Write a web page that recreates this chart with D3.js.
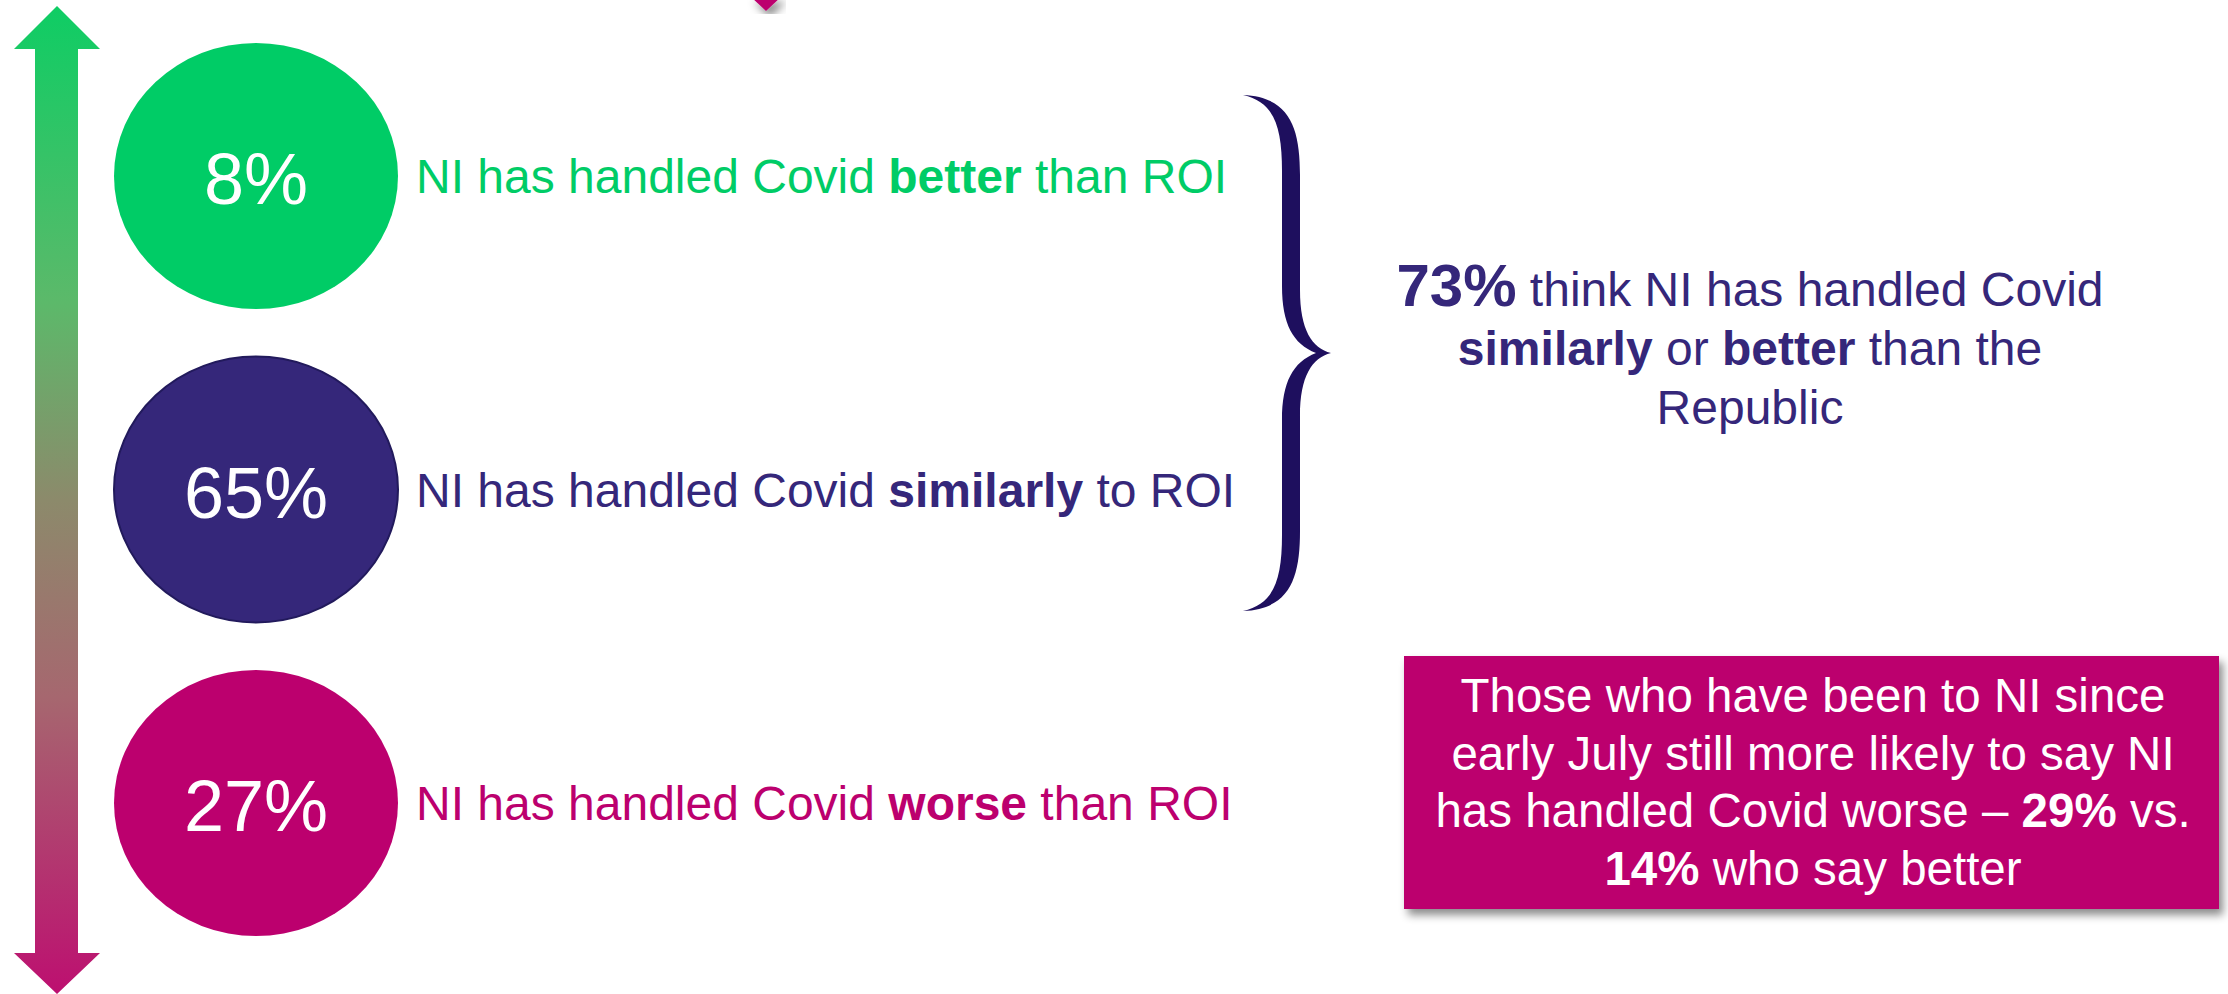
<!DOCTYPE html>
<html>
<head>
<meta charset="utf-8">
<script src="https://cdn.jsdelivr.net/npm/d3@7"></script>
<style>
  body { margin: 0; background: #fff; }
  svg { display: block; font-family: "Liberation Sans", Arial, sans-serif; }
</style>
</head>
<body>
<div id="container"></div>
<script>
// answers, shares and their colours
const categories = ["better", "similarly", "worse"];
const shares = [8, 65, 27];
const colors = ["#00cc66", "#35277a", "#bc006e"];
const labelLead = "NI has handled Covid ";
const labelTail = [" than ROI", " to ROI", " than ROI"];

// summary beside the brace: [text, bold, size]
const summaryLines = [
  [["73%", true, 60], [" think NI has handled Covid", false, 48]],
  [["similarly", true, 48], [" or ", false, 48], ["better", true, 48], [" than the", false, 48]],
  [["Republic", false, 48]]
];

// callout box lines
const boxLines = [
  [["Those who have been to NI since", false]],
  [["early July still more likely to say NI", false]],
  [["has handled Covid worse \u2013 ", false], ["29%", true], [" vs.", false]],
  [["14%", true], [" who say better", false]]
];

const W = 2228, H = 994;

const svg = d3.select("#container")
  .append("svg")
  .attr("width", W)
  .attr("height", H);

const defs = svg.append("defs");

const grad = defs.append("linearGradient")
  .attr("id", "arrowGrad")
  .attr("gradientUnits", "userSpaceOnUse")
  .attr("x1", 0).attr("y1", 6)
  .attr("x2", 0).attr("y2", 994);
[[0, "#0ecd64"], [0.3, "#5cb96a"], [0.5, "#8c8a6b"], [0.7, "#a6676f"], [1, "#bd0f70"]]
  .forEach(([o, c]) => grad.append("stop").attr("offset", o).attr("stop-color", c));

const shadow = defs.append("filter")
  .attr("id", "shadow")
  .attr("x", "-10%").attr("y", "-10%")
  .attr("width", "120%").attr("height", "130%");
shadow.append("feDropShadow")
  .attr("dx", 4).attr("dy", 6)
  .attr("stdDeviation", 4)
  .attr("flood-color", "#000")
  .attr("flood-opacity", 0.45);

// vertical position of each answer
const y = d3.scalePoint()
  .domain(categories)
  .range([176, 803]);

const cx = 256;

// double-headed gradient arrow
svg.append("path")
  .attr("d", "M57,6 L100,49 L78,49 L78,953 L100,953 L57,994 L14,953 L35,953 L35,49 L14,49 Z")
  .attr("fill", "url(#arrowGrad)");

// small pink pointer at the top
svg.append("path")
  .attr("d", "M750,-4 L782,-4 L766,11 Z")
  .attr("fill", "#bc006e")
  .attr("filter", "url(#shadow)");

const rows = svg.selectAll("g.row")
  .data(categories)
  .join("g")
  .attr("class", "row")
  .attr("transform", d => `translate(0,${y(d)})`);

rows.append("ellipse")
  .attr("cx", cx)
  .attr("cy", 0)
  .attr("rx", 142)
  .attr("ry", 133)
  .attr("fill", (d, i) => colors[i])
  .attr("stroke", (d, i) => i === 1 ? "#221a5c" : "none")
  .attr("stroke-width", 2);

rows.append("text")
  .attr("x", cx)
  .attr("y", 28)
  .attr("text-anchor", "middle")
  .attr("fill", "#fff")
  .attr("font-size", 72)
  .text((d, i) => shares[i] + "%");

const label = rows.append("text")
  .attr("x", 416)
  .attr("y", 17)
  .attr("font-size", 48)
  .attr("fill", (d, i) => colors[i]);
label.append("tspan").text(labelLead);
label.append("tspan").attr("font-weight", "bold").text(d => d);
label.append("tspan").text((d, i) => labelTail[i]);

// curly brace grouping the first two answers
svg.append("path")
  .attr("d", [
    "M1243,95",
    "C1290,97 1300,128 1300,175",
    "L1300,290",
    "C1300,330 1312,348 1331,353",
    "C1312,358 1300,376 1300,416",
    "L1300,531",
    "C1300,578 1290,609 1243,611",
    "C1274,604 1282,580 1282,535",
    "L1282,420",
    "C1282,382 1293,362 1316,353",
    "C1293,344 1282,324 1282,286",
    "L1282,171",
    "C1282,126 1274,102 1243,95 Z"
  ].join(" "))
  .attr("fill", "#1e0f5e");

const summary = svg.append("g");
summaryLines.forEach((parts, i) => {
  const t = summary.append("text")
    .attr("x", 1750)
    .attr("y", 306 + i * 59)
    .attr("text-anchor", "middle")
    .attr("fill", "#35277a");
  parts.forEach(([txt, bold, size]) => {
    t.append("tspan")
      .attr("font-size", size)
      .attr("font-weight", bold ? "bold" : "normal")
      .text(txt);
  });
});

// callout box
svg.append("rect")
  .attr("x", 1404)
  .attr("y", 656)
  .attr("width", 815)
  .attr("height", 253)
  .attr("fill", "#bc006e")
  .attr("filter", "url(#shadow)");

boxLines.forEach((parts, i) => {
  const t = svg.append("text")
    .attr("x", 1813)
    .attr("y", 712 + i * 57.7)
    .attr("text-anchor", "middle")
    .attr("font-size", 47.5)
    .attr("fill", "#fff");
  parts.forEach(([txt, bold]) => {
    t.append("tspan")
      .attr("font-weight", bold ? "bold" : "normal")
      .text(txt);
  });
});
</script>
</body>
</html>
